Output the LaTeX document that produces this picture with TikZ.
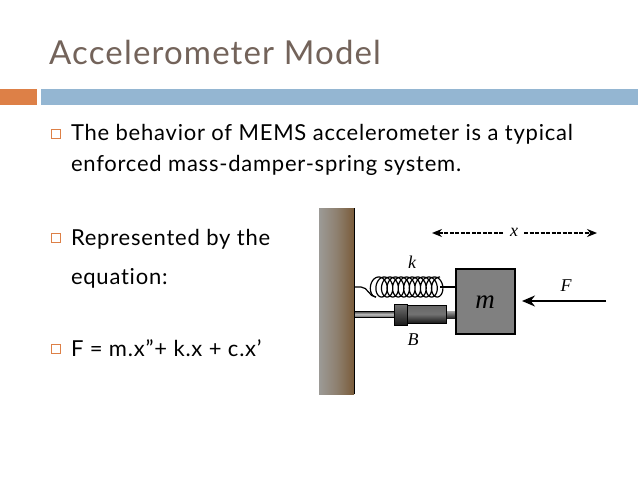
\documentclass[tikz,border=0pt]{standalone}
\usepackage{fontspec}
\setmainfont{Lato}
\newfontfamily\bodyfont[LetterSpace=3.5,Ligatures=NoCommon]{Lato}
\newfontfamily\titlefont[LetterSpace=3.5,Ligatures=NoCommon]{Lato}
\newfontfamily\mathfont{Liberation Serif}
\usetikzlibrary{arrows.meta,positioning}
\definecolor{titlecol}{HTML}{73635A}
\definecolor{barorange}{HTML}{DD8047}
\definecolor{barblue}{HTML}{94B6D2}
\definecolor{wallleft}{HTML}{9C9A96}
\definecolor{wallmid}{HTML}{8E8070}
\definecolor{wallright}{HTML}{7A5C3A}
\tikzset{
  line/.style={anchor=base west,inner sep=0pt,outer sep=0pt,text=black,font=\bodyfont\fontsize{22}{26}\selectfont},
  bulletbox/.style={draw=barorange,line width=0.8pt,fill=white,minimum size=9pt,inner sep=0pt,outer sep=0pt},
  var/.style={inner sep=0pt,outer sep=0pt,font=\mathfont\itshape\fontsize{18}{21}\selectfont},
  dasharrow/.style={line width=1.2pt,dash pattern=on 4pt off 1.5pt,-{Stealth[length=10pt,width=8pt]}},
}
\begin{document}
\begin{tikzpicture}[x=1pt,y=-1pt]
\useasboundingbox (0,0) rectangle (638,479);
\fill[white] (0,0) rectangle (638,479);
\node[anchor=base west,inner sep=0pt,text=titlecol,font=\titlefont\fontsize{33}{38}\selectfont] (title) at (49,64) {Accelerometer Model};
\fill[barorange] (0,89) rectangle (37,105);
\fill[barblue] (41,89) rectangle (638,105);
\node[bulletbox] (b1) at (55.5,134) {};
\node[bulletbox] (b2) at (55.5,238) {};
\node[bulletbox] (b3) at (55.5,349) {};
\node[line] (t1) at (71,140) {The behavior of MEMS accelerometer is a typical};
\node[line] (t2) at (71,171) {enforced mass-damper-spring system.};
\node[line] (t3) at (71,245) {Represented by the};
\node[line] (t4) at (71,284) {equation:};
\node[line] (t5) at (71,356) {F = m.x”+ k.x + c.x’};
% wall
\shade[left color=wallleft,right color=wallright,middle color=wallmid] (319,208) rectangle (354,394);
\draw[line width=1pt] (354,208) -- (354,394);
% spring
\draw[line width=1.2pt] (354,287) -- (361,287) to[out=0,in=180] (376,297);
\draw[line width=1.2pt,domain=0:4140,samples=600,smooth,variable=\t]
  plot ({376+\t/4140*64-7*sin(\t)}, {287+10*cos(\t)});
\draw[line width=1.2pt] (440,287) -- (455,287);
% damper
\shade[top color=black!70,bottom color=black!60,middle color=black!25] (354,311.5) rectangle (395,317);
\draw[line width=0.5pt] (354,311.5) rectangle (395,317);
\shade[top color=black!35,bottom color=black!85] (446,311) rectangle (455,318);
\shade[top color=black!60,bottom color=black!90,middle color=black!55] (407,305) rectangle (446,323);
\draw[line width=0.6pt] (407,305) rectangle (446,323);
\shade[top color=black!55,bottom color=black!90] (394.5,304) rectangle (407.5,325);
\draw[line width=0.6pt] (394.5,304) rectangle (407.5,325);
% mass
\node[draw=black,line width=1.5pt,fill=black!50,minimum width=59pt,minimum height=65pt,inner sep=0pt,outer sep=0pt] (mass) at (485.5,301.5) {};
\node[var,font=\mathfont\itshape\fontsize{27}{30}\selectfont] (m) at (485,302) {m};
\node[var] (k) at (412,262) {k};
\node[var] (B) at (413,340) {B};
\node[var] (F) at (566,286) {F};
\node[var] (x) at (514,232) {x};
\coordinate (xl) at (432,233);
\coordinate (xr) at (597,233);
\coordinate (xa) at (503,233);
\coordinate (xb) at (524,233);
\draw[dasharrow] (xa) -- (xl);
\draw[dasharrow] (xb) -- (xr);
\coordinate (fs) at (606,301);
\coordinate (fe) at (522,301);
\draw[line width=2pt,-{Stealth[length=13pt,width=11pt]}] (fs) -- (fe);
\end{tikzpicture}
\end{document}
